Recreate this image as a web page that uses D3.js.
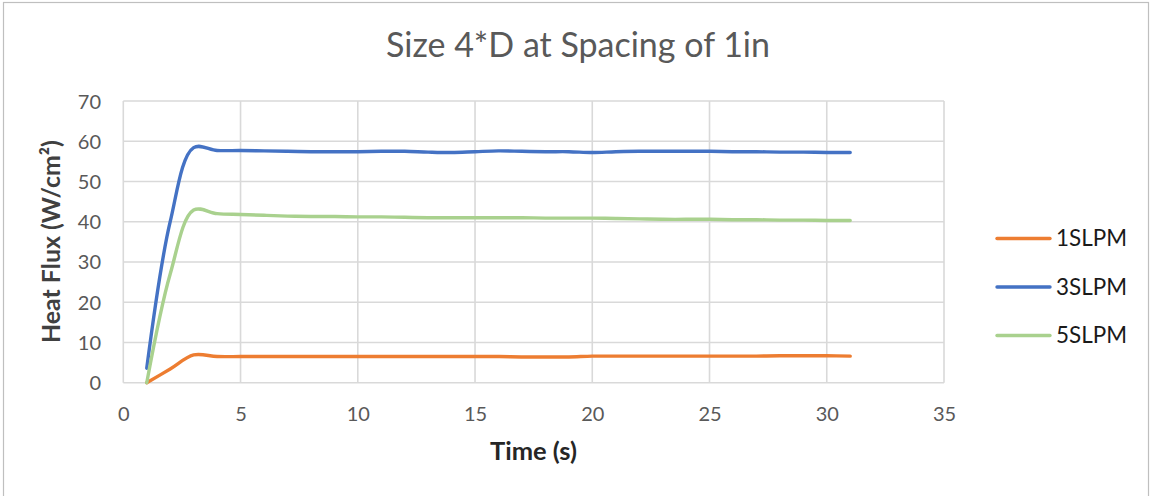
<!DOCTYPE html>
<html>
<head>
<meta charset="utf-8">
<script src="https://cdn.jsdelivr.net/npm/d3@7"></script>
<style>
  html, body { margin: 0; padding: 0; background: #fff; }
  svg { display: block; font-family: Lato, "Open Sans", sans-serif; }
</style>
</head>
<body>
<svg id="chart" width="1152" height="496"></svg>
<script>
const seriesNames = ["1SLPM", "3SLPM", "5SLPM"];
const seriesColors = ["#ED7D31", "#4472C4", "#A9D18E"];
const times = [1,2,3,4,5,6,7,8,9,10,11,12,13,14,15,16,17,18,19,20,21,22,23,24,25,26,27,28,29,30,31];
const flux1 = [0,3.4,6.9,6.5,6.5,6.5,6.5,6.5,6.5,6.5,6.5,6.5,6.5,6.5,6.5,6.5,6.4,6.4,6.4,6.6,6.6,6.6,6.6,6.6,6.6,6.6,6.6,6.7,6.7,6.7,6.6];
const flux3 = [3.6,40,58.4,57.7,57.7,57.6,57.5,57.4,57.4,57.4,57.5,57.5,57.3,57.2,57.4,57.6,57.5,57.4,57.4,57.2,57.4,57.5,57.5,57.5,57.5,57.4,57.4,57.3,57.3,57.2,57.2];
const flux5 = [0,27,42.9,42.0,41.8,41.6,41.4,41.3,41.3,41.2,41.2,41.1,41.0,41.0,41.0,41.0,41.0,40.9,40.9,40.9,40.8,40.7,40.6,40.6,40.6,40.5,40.5,40.4,40.4,40.3,40.3];
const xTicks = [0,5,10,15,20,25,30,35];
const yTicks = [0,10,20,30,40,50,60,70];
const titleText = "Size 4*D at Spacing of 1in";
const xTitle = "Time (s)";
const yTitle = "Heat Flux (W/cm²)";

const allSeries = [flux1, flux3, flux5];

const svg = d3.select("#chart");
const W = 1152, H = 496;
const plot = {left: 123.3, right: 944, top: 101, bottom: 382.7};

// chart border
svg.append("rect").attr("x", 3.5).attr("y", 2.5).attr("width", 1145).attr("height", 500)
  .attr("fill", "#fff").attr("stroke", "#bfbfbf").attr("stroke-width", 1.2);

const x = d3.scaleLinear().domain([0, 35]).range([plot.left, plot.right]);
const y = d3.scaleLinear().domain([0, 70]).range([plot.bottom, plot.top]);

// gridlines
const grid = svg.append("g");
grid.selectAll(".hg").data(yTicks).join("line")
  .attr("x1", plot.left).attr("x2", plot.right)
  .attr("y1", d => y(d)).attr("y2", d => y(d))
  .attr("stroke", "#d9d9d9").attr("stroke-width", 1.6);
grid.selectAll(".vg").data(xTicks).join("line")
  .attr("x1", d => x(d)).attr("x2", d => x(d))
  .attr("y1", plot.top).attr("y2", plot.bottom)
  .attr("stroke", "#d9d9d9").attr("stroke-width", 1.6);

// axes (labels only, via d3 axes)
const tickColor = "#595959";
const xAxis = svg.append("g").attr("transform", `translate(0,${plot.bottom})`)
  .call(d3.axisBottom(x).tickValues(xTicks).tickSize(0).tickPadding(0).tickFormat(d3.format("d")));
xAxis.select(".domain").remove();
xAxis.selectAll("text").attr("fill", tickColor).attr("font-size", 20)
  .attr("font-family", "Lato, sans-serif").attr("dy", null).attr("y", 38);

const yAxis = svg.append("g").attr("transform", `translate(101,0)`)
  .call(d3.axisLeft(y).tickValues(yTicks).tickSize(0).tickPadding(0).tickFormat(d3.format("d")));
yAxis.select(".domain").remove();
yAxis.selectAll("text").attr("fill", tickColor).attr("font-size", 20)
  .attr("font-family", "Lato, sans-serif").attr("dy", "0.35em").attr("x", 0);

// lines
const line = d3.line()
  .x((d, i) => x(times[i]))
  .y(d => y(d))
  .curve(d3.curveCatmullRom.alpha(0.5));

svg.append("g").selectAll("path").data(allSeries).join("path")
  .attr("d", d => line(d))
  .attr("fill", "none")
  .attr("stroke", (d, i) => seriesColors[i])
  .attr("stroke-width", 3.4)
  .attr("stroke-linecap", "round")
  .attr("stroke-linejoin", "round");

// helper to fit text to a target width
function fit(sel, target) {
  const node = sel.node();
  let fs = parseFloat(sel.attr("font-size"));
  const w = node.getComputedTextLength();
  if (w > 0) sel.attr("font-size", (fs * target / w).toFixed(2));
}

// title
const title = svg.append("text").attr("x", 578).attr("y", 57).attr("text-anchor", "middle")
  .attr("fill", "#595959").attr("font-size", 28).text(titleText);
fit(title, 384);

// x title
const xt = svg.append("text").attr("x", 533.5).attr("y", 460).attr("text-anchor", "middle")
  .attr("fill", "#262626").attr("font-weight", "bold").attr("font-size", 20).text(xTitle);
fit(xt, 87);

// y title
const yt = svg.append("text").attr("transform", "translate(60,241.5) rotate(-90)")
  .attr("text-anchor", "middle")
  .attr("fill", "#404040").attr("font-weight", "bold").attr("font-size", 20).text(yTitle);
fit(yt, 203);

// legend
const legendY = [238.5, 287, 335.5];
const lg = svg.append("g").selectAll("g").data(seriesNames).join("g")
  .attr("transform", (d, i) => `translate(0,${legendY[i]})`);
lg.append("line").attr("x1", 997).attr("x2", 1050).attr("y1", 0).attr("y2", 0)
  .attr("stroke", (d, i) => seriesColors[i]).attr("stroke-width", 3.4).attr("stroke-linecap", "round");
const lt = lg.append("text").attr("x", 1056).attr("y", 0).attr("dy", "0.35em")
  .attr("fill", "#1a1a1a").attr("font-size", 22).text(d => d);
lt.each(function() { fit(d3.select(this), 71); });
</script>
</body>
</html>
